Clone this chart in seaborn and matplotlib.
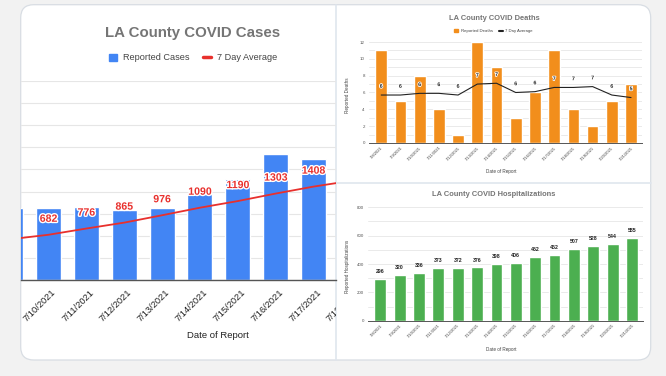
import numpy as np
import matplotlib
matplotlib.use("Agg")
import matplotlib.pyplot as plt
import matplotlib.patheffects as pe
from matplotlib.patches import FancyBboxPatch, Patch
from matplotlib.lines import Line2D
from matplotlib.ticker import MultipleLocator
from matplotlib.transforms import Bbox, TransformedBbox, blended_transform_factory
import seaborn as sns

# data
case_dates = ["7/9/2021", "7/10/2021", "7/11/2021", "7/12/2021", "7/13/2021",
              "7/14/2021", "7/15/2021", "7/16/2021", "7/17/2021", "7/18/2021"]
case_reported = [1090, 1090, 1096, 1056, 1090, 1292, 1528, 1896, 1820, 1600]
case_avg = [615, 682, 776, 865, 976, 1090, 1190, 1303, 1408, 1496]

day_dates = ["7/8/2021", "7/9/2021", "7/10/2021", "7/11/2021", "7/12/2021",
             "7/13/2021", "7/14/2021", "7/15/2021", "7/16/2021", "7/17/2021",
             "7/18/2021", "7/19/2021", "7/20/2021", "7/21/2021"]
deaths = [11, 5, 8, 4, 1, 12, 9, 3, 6, 11, 4, 2, 5, 7]
death_avg = [5.7, 5.7, 5.9, 5.9, 5.7, 7.0, 7.1, 6.0, 6.1, 6.6, 6.6, 6.7, 5.7, 5.4]
hosp = [296, 320, 336, 373, 372, 376, 398, 406, 452, 462, 507, 528, 544, 585]

BLUE = "#4285f4"
RED = "#e8302d"
ORANGE = "#f28e1c"
GREEN = "#4caf50"
TITLE_GRAY = "#757575"
GRID = "#e6e6e6"

sns.set_style("white")
plt.rcParams["font.family"] = ["Liberation Sans", "DejaVu Sans"]

W, H = 666, 376
fig = plt.figure(figsize=(W / 100, H / 100), dpi=100)
fig.patch.set_facecolor("#f2f2f2")


def rect(x0, y0, x1, y1):
    return [x0 / W, 1 - y1 / H, (x1 - x0) / W, (y1 - y0) / H]


def ftext(x, y, s, **kw):
    return fig.text(x / W, 1 - y / H, s, **kw)


# card background + dividers
bg = fig.add_axes([0, 0, 1, 1])
bg.set_zorder(-1)
bg.set_xlim(0, W)
bg.set_ylim(H, 0)
bg.axis("off")
bg.add_patch(FancyBboxPatch((20.7, 4.7), 630, 355.3,
                            boxstyle="round,pad=0,rounding_size=13",
                            fc="white", ec="#d8dde3", lw=0.9))
bg.plot([336, 336], [5, 360], color="#dfe6ee", lw=1.2)
bg.plot([336, 650.5], [183, 183], color="#dfe6ee", lw=1.2)

# ---------- cases (cropped view) ----------
ax = fig.add_axes(rect(21, 81, 335.5, 280))
ax.set_facecolor("none")
sns.barplot(x=case_dates, y=case_reported, color=BLUE, saturation=1,
            width=0.66, ax=ax, zorder=2)
sns.lineplot(x=np.arange(len(case_avg)), y=case_avg, color=RED, lw=1.3,
             ax=ax, zorder=3, legend=False)
for i, v in enumerate(case_avg):
    ax.annotate(str(v), (i, v), xytext=(0, 11.5), textcoords="offset points",
                ha="center", va="center", fontsize=7.6, fontweight="bold",
                color=RED, zorder=4,
                path_effects=[pe.withStroke(linewidth=2, foreground="white")])
ax.set_xlim(0.2736, 8.581)
ax.set_ylim(0, 3000)
ax.set_yticks(np.linspace(0, 3000, 10))
ax.grid(axis="y", color=GRID, lw=0.8, zorder=0)
ax.tick_params(left=False, labelleft=False, bottom=False, labelbottom=False)
ax.set_xlabel("")
ax.set_ylabel("")
for s in ["left", "right", "top"]:
    ax.spines[s].set_visible(False)
ax.spines["bottom"].set_color("#555555")
ax.spines["bottom"].set_linewidth(1)

# date labels, clipped to the card like the cropped original
card_clip = TransformedBbox(Bbox.from_extents(20.7 / W, 0, 336 / W, 1), fig.transFigure)
tr = blended_transform_factory(ax.transData, ax.transAxes)
for i, d in enumerate(case_dates):
    if i + 0.08 < 0.2736:
        continue
    t = ax.text(i + 0.08, -0.04, d, transform=tr, rotation=45, ha="right",
                va="top", rotation_mode="anchor", fontsize=6.7, color="#222222")
    t.set_clip_on(True)
    t.set_clip_box(card_clip)

ftext(193, 33, "LA County COVID Cases", ha="center", va="center",
      fontsize=10.8, fontweight="bold", color=TITLE_GRAY)
ftext(218, 336, "Date of Report", ha="center", va="center", fontsize=6.8,
      color="#222222")
fig.legend(handles=[Patch(color=BLUE), Line2D([], [], color=RED, lw=2.5)],
           labels=["Reported Cases", "7 Day Average"], loc="center",
           bbox_to_anchor=(193 / W, 1 - 58 / H), ncol=2, frameon=False,
           fontsize=6.6, handlelength=0.9, handleheight=0.9,
           columnspacing=1.4, handletextpad=0.7, labelcolor="#444444")


# ---------- small charts ----------
def small_axes(r, values, color, ymax, major, minor):
    a = fig.add_axes(r)
    a.set_facecolor("none")
    sns.barplot(x=day_dates, y=values, color=color, saturation=1, width=0.61,
                ax=a, zorder=2)
    a.set_xlim(-0.635, 13.57)
    a.set_ylim(0, ymax)
    a.yaxis.set_major_locator(MultipleLocator(major))
    a.yaxis.set_minor_locator(MultipleLocator(minor))
    a.grid(axis="y", which="both", color=GRID, lw=0.6, zorder=0)
    a.set_xticks(range(len(day_dates)))
    a.set_xticklabels(day_dates, rotation=45, ha="right",
                      rotation_mode="anchor", fontsize=3, color="#444444")
    a.tick_params(axis="x", length=0, pad=2)
    a.tick_params(axis="y", which="both", length=0, pad=3, labelsize=3.2,
                  labelcolor="#555555")
    for s in ["left", "right", "top"]:
        a.spines[s].set_visible(False)
    a.spines["bottom"].set_color("#555555")
    a.spines["bottom"].set_linewidth(0.7)
    a.set_xlabel("")
    a.set_ylabel("")
    return a


ax2 = small_axes(rect(369, 42, 642, 143), deaths, ORANGE, 12, 2, 1)
sns.lineplot(x=np.arange(len(death_avg)), y=death_avg, color="#222222",
             lw=0.8, ax=ax2, zorder=3, legend=False)
for i, v in enumerate(death_avg):
    ax2.annotate(str(round(v)), (i, v), xytext=(0, 6.3),
                 textcoords="offset points", ha="center", va="center",
                 fontsize=3.8, fontweight="bold", color="#222222", zorder=4,
                 path_effects=[pe.withStroke(linewidth=1.2, foreground="white")])
ftext(494, 18, "LA County COVID Deaths", ha="center", va="center",
      fontsize=5.4, fontweight="bold", color=TITLE_GRAY)
ftext(501, 172, "Date of Report", ha="center", va="center", fontsize=3.3,
      color="#444444")
ftext(348, 95, "Reported Deaths", ha="center", va="center", fontsize=3.3,
      rotation=90, color="#444444")
fig.legend(handles=[Patch(color=ORANGE), Line2D([], [], color="#222222", lw=1.5)],
           labels=["Reported Deaths", "7 Day Average"], loc="center",
           bbox_to_anchor=(493.5 / W, 1 - 31 / H), ncol=2, frameon=False,
           fontsize=3.1, handlelength=0.9, handleheight=0.9,
           columnspacing=1.4, handletextpad=0.6, labelcolor="#444444")

ax3 = small_axes(rect(368, 207.3, 643, 320.7), hosp, GREEN, 800, 200, 100)
ax3.bar_label(ax3.containers[0], fontsize=3.8, fontweight="bold",
              color="#222222", padding=3.5)
ftext(494, 195, "LA County COVID Hospitalizations", ha="center", va="center",
      fontsize=5.4, fontweight="bold", color=TITLE_GRAY)
ftext(501, 349, "Date of Report", ha="center", va="center", fontsize=3.3,
      color="#444444")
ftext(348, 266, "Reported Hospitalizations", ha="center", va="center",
      fontsize=3.3, rotation=90, color="#444444")

fig.savefig("out.png", dpi=100, facecolor=fig.get_facecolor())
